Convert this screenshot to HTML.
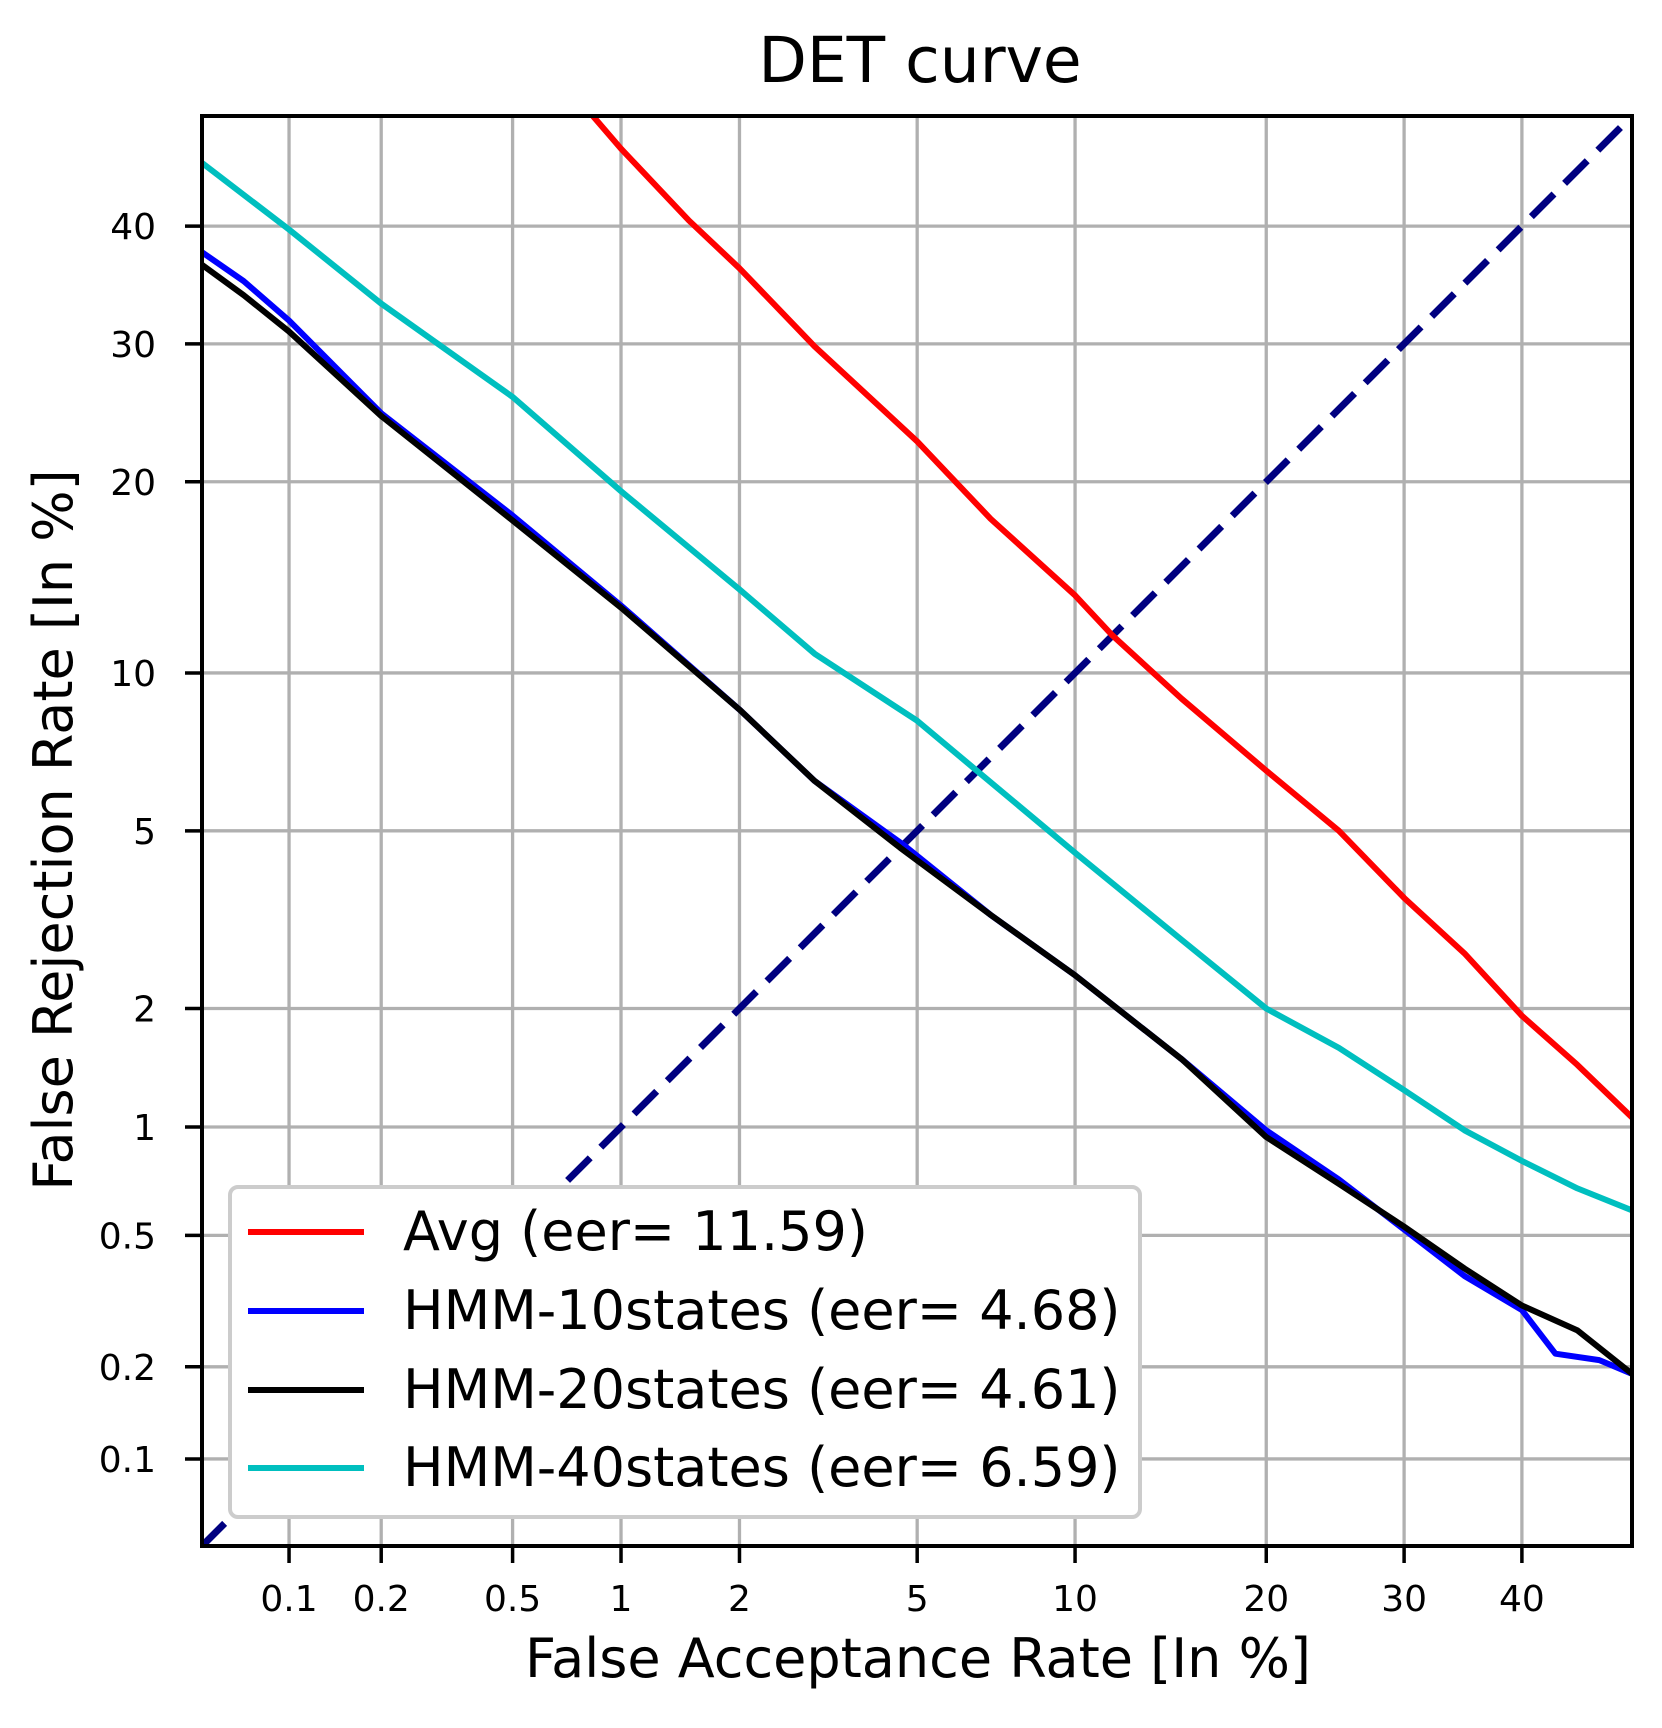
<!DOCTYPE html>
<html><head><meta charset="utf-8"><style>
html,body{margin:0;padding:0;background:#fff}
svg{display:block;font-family:"DejaVu Sans","Liberation Sans",sans-serif}
</style></head><body>
<svg id="chart" width="1662" height="1728" viewBox="0 0 1662 1728" xmlns="http://www.w3.org/2000/svg">
<rect width="1662" height="1728" fill="#fff"/>
<text x="920" y="82" font-size="63" text-anchor="middle">DET curve</text>
<g id="grid"></g>
<g id="series"></g>
<g id="axes"></g>
<text x="918" y="1677" font-size="54" text-anchor="middle">False Acceptance Rate [In %]</text>
<text transform="translate(72,830) rotate(-90)" font-size="54" text-anchor="middle">False Rejection Rate [In %]</text>
<g id="legend"></g>
</svg>
<script>
const xTicks = [0.1, 0.2, 0.5, 1, 2, 5, 10, 20, 30, 40];
const xTickLabels = ["0.1","0.2","0.5","1","2","5","10","20","30","40"];
const yTicks = [0.1, 0.2, 0.5, 1, 2, 5, 10, 20, 30, 40];
const yTickLabels = ["0.1","0.2","0.5","1","2","5","10","20","30","40"];
const axisRange = [0.05, 50];
const avgFar = [0.84, 1, 1.5, 2, 3, 5, 7, 10, 11.59, 15, 20, 25, 30, 35, 40, 45, 50];
const avgFrr = [50, 47, 40.5, 36.3, 29.8, 22.7, 17.7, 13.5, 11.6, 9.0, 6.6, 5.0, 3.6, 2.7, 1.92, 1.45, 1.06];
const hmm10Far = [0.05, 0.07, 0.1, 0.2, 0.5, 1, 2, 3, 4.68, 7, 10, 15, 20, 25, 30, 35, 40, 43, 47, 50];
const hmm10Frr = [37.7, 35.2, 31.9, 24.7, 17.9, 13.0, 8.6, 6.3, 4.68, 3.3, 2.4, 1.5, 0.98, 0.72, 0.52, 0.38, 0.30, 0.22, 0.21, 0.19];
const hmm20Far = [0.05, 0.07, 0.1, 0.2, 0.5, 1, 2, 3, 4.61, 7, 10, 15, 20, 25, 30, 35, 40, 45, 50];
const hmm20Frr = [36.6, 34.0, 31.0, 24.5, 17.6, 12.9, 8.6, 6.3, 4.61, 3.3, 2.4, 1.5, 0.94, 0.70, 0.53, 0.40, 0.31, 0.26, 0.19];
const hmm40Far = [0.05, 0.1, 0.2, 0.5, 1, 2, 3, 5, 6.59, 10, 15, 20, 25, 30, 35, 40, 45, 50];
const hmm40Frr = [45.7, 39.7, 33.3, 25.9, 19.4, 13.8, 10.8, 8.2, 6.59, 4.5, 2.9, 2.0, 1.6, 1.25, 0.98, 0.81, 0.68, 0.59];
const seriesNames = ["Avg (eer= 11.59)", "HMM-10states (eer= 4.68)", "HMM-20states (eer= 4.61)", "HMM-40states (eer= 6.59)"];

const NS = "http://www.w3.org/2000/svg";
const L = 202, R = 1632, T = 116, B = 1546;
function probit(p) {
  const a=[-39.69683028665376,220.9460984245205,-275.9285104469687,138.3577518672690,-30.66479806614716,2.506628277459239];
  const b=[-54.47609879822406,161.5858368580409,-155.6989798598866,66.80131188771972,-13.28068155288572];
  const c=[-0.007784894002430293,-0.3223964580411365,-2.400758277161838,-2.549732539343734,4.374664141464968,2.938163982698783];
  const d=[0.007784695709041462,0.3224671290700398,2.445134137142996,3.754408661907416];
  const pl=0.02425;
  if (p < pl) { const q=Math.sqrt(-2*Math.log(p)); return (((((c[0]*q+c[1])*q+c[2])*q+c[3])*q+c[4])*q+c[5])/((((d[0]*q+d[1])*q+d[2])*q+d[3])*q+1); }
  if (p > 1-pl) { const q=Math.sqrt(-2*Math.log(1-p)); return -(((((c[0]*q+c[1])*q+c[2])*q+c[3])*q+c[4])*q+c[5])/((((d[0]*q+d[1])*q+d[2])*q+d[3])*q+1); }
  const q=p-0.5, r=q*q;
  return (((((a[0]*r+a[1])*r+a[2])*r+a[3])*r+a[4])*r+a[5])*q/(((((b[0]*r+b[1])*r+b[2])*r+b[3])*r+b[4])*r+1);
}
const pMin = probit(axisRange[0]/100), pMax = probit(axisRange[1]/100);
function xScale(v){ return L + (probit(v/100)-pMin)/(pMax-pMin)*(R-L); }
function yScale(v){ return B - (probit(v/100)-pMin)/(pMax-pMin)*(B-T); }
function mk(tag, attrs, parent){ const e=document.createElementNS(NS,tag); for(const k in attrs) e.setAttribute(k,attrs[k]); parent.appendChild(e); return e; }

const grid = document.getElementById('grid');
xTicks.forEach((v,i)=>{
  const x=xScale(v);
  const g=mk('line',{x1:x,x2:x,y1:T,y2:B,stroke:'#b0b0b0','stroke-width':3.3},grid);
  
  
});
yTicks.forEach((v,i)=>{
  const y=yScale(v);
  const g=mk('line',{x1:L,x2:R,y1:y,y2:y,stroke:'#b0b0b0','stroke-width':3.3},grid);
  
  
});

const series = document.getElementById('series');
const clip = mk('clipPath',{id:'plotclip'},series);
mk('rect',{x:L,y:T,width:R-L,height:B-T},clip);
const sg = mk('g',{'clip-path':'url(#plotclip)'},series);
const diag = mk('line',{x1:xScale(axisRange[0]),y1:yScale(axisRange[0]),x2:xScale(axisRange[1]),y2:yScale(axisRange[1]),stroke:'#000080','stroke-width':7,'stroke-dasharray':'32 15'},sg);


function drawSeries(xs, ys, color, name){
  const d = xs.map((v,i)=>(i?'L':'M')+xScale(v).toFixed(1)+' '+yScale(ys[i]).toFixed(1)).join(' ');
  const p = mk('path',{d:d,fill:'none',stroke:color,'stroke-width':6,'stroke-linejoin':'round'},sg);
  
  
}
drawSeries(avgFar, avgFrr, '#ff0000', 'avg-line');
drawSeries(hmm10Far, hmm10Frr, '#0000ff', 'hmm-10states-line');
drawSeries(hmm40Far, hmm40Frr, '#00bfbf', 'hmm-40states-line');
drawSeries(hmm20Far, hmm20Frr, '#000000', 'hmm-20states-line');

const axes = document.getElementById('axes');
const frame = mk('rect',{x:L,y:T,width:R-L,height:B-T,fill:'none',stroke:'#000','stroke-width':4},axes);


xTicks.forEach((v,i)=>{
  const x=xScale(v);
  const t=mk('line',{x1:x,x2:x,y1:B,y2:B+17,stroke:'#000','stroke-width':3.5},axes);
  
  
  const lb=mk('text',{x:x,y:1611,'font-size':36,'text-anchor':'middle'},axes);
  lb.textContent=xTickLabels[i];
  
  
});
yTicks.forEach((v,i)=>{
  const y=yScale(v);
  const t=mk('line',{x1:L-17,x2:L,y1:y,y2:y,stroke:'#000','stroke-width':3.5},axes);
  
  
  const lb=mk('text',{x:156,y:y+13,'font-size':36,'text-anchor':'end'},axes);
  lb.textContent=yTickLabels[i];
  
  
});

const legend = document.getElementById('legend');
const box = mk('rect',{x:230,y:1187,width:910,height:330,rx:8,fill:'#fff',stroke:'#cccccc','stroke-width':4},legend);


const legColors = ['#ff0000','#0000ff','#000000','#00bfbf'];
const legY = [1232, 1311, 1390, 1468];
seriesNames.forEach((n,i)=>{
  const ln=mk('line',{x1:248,x2:364,y1:legY[i],y2:legY[i],stroke:legColors[i],'stroke-width':6},legend);
  
  
  const tx=mk('text',{x:403,y:legY[i]+18,'font-size':54},legend);
  tx.textContent=n;
  
  
});
</script>
</body></html>
